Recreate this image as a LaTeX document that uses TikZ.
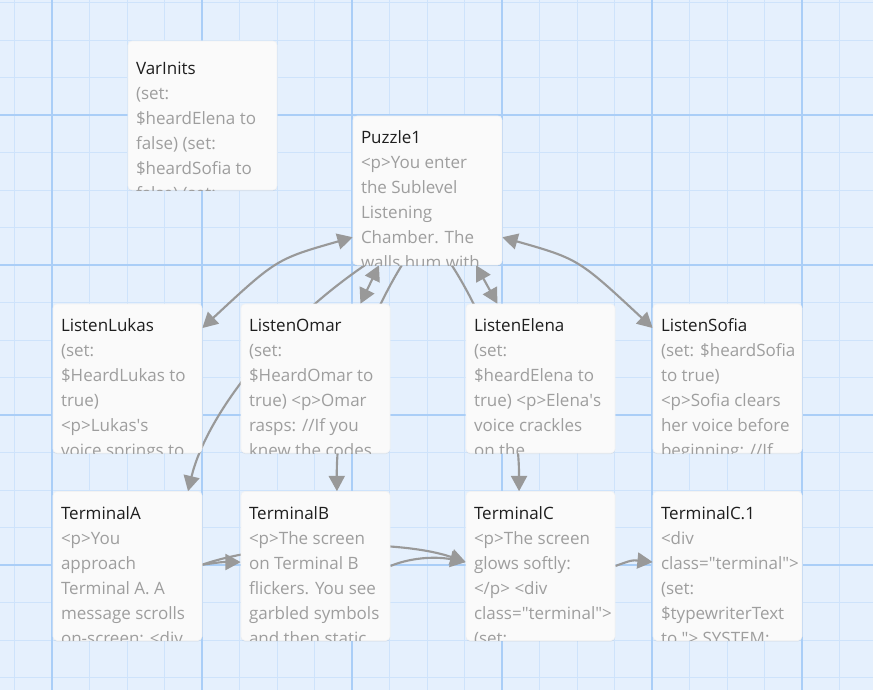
\documentclass[tikz,border=0pt]{standalone}
\usepackage{fontspec}
\setmainfont{Open Sans}
\usetikzlibrary{arrows.meta,calc,shadows}

\definecolor{canvasblue}{RGB}{229,240,253}
\definecolor{minorblue}{RGB}{206,227,251}
\definecolor{majorblue}{RGB}{170,206,247}
\definecolor{cardwhite}{RGB}{250,250,250}
\definecolor{linkgray}{RGB}{153,153,153}
\definecolor{bodygray}{RGB}{158,158,158}
\definecolor{titlegray}{RGB}{30,30,30}

\pgfdeclarelayer{bg}
\pgfdeclarelayer{edges}
\pgfsetlayers{bg,edges,main}

% passage card: name, centre, title, text (5 lines), title drop
\newcommand{\passage}[5]{%
  \node[passage] (#1) at (#2) {};
  \begin{scope}
    \clip[rounded corners=3pt] (#1.north west) rectangle (#1.south east);
    \node[ptitle] (#1-title) at ($(#1.north west)+(8,#5)$) {#3};
    \node[pbody] (#1-text) at ($(#1-title.base west)+(0,125)$) {#4};
  \end{scope}}

\begin{document}
\begin{tikzpicture}[x=0.75pt,y=0.75pt,yscale=-1,xscale=1,
  passage/.style={draw=black!5, fill=cardwhite, rounded corners=3pt, inner sep=0pt,
    minimum width=111.75pt, minimum height=111.75pt,
    drop shadow={shadow xshift=0pt, shadow yshift=-0.8pt, opacity=0.12}},
  ptitle/.style={font=\fontsize{12.75}{18.75}\selectfont, text=titlegray, anchor=base west, inner sep=0pt},
  pbody/.style={font=\fontsize{12.75}{18.75}\selectfont, text=bodygray, align=left, anchor=base west, inner sep=0pt},
  link/.style={draw=linkgray, line width=1.6pt, -{Triangle[length=11.5pt,width=12pt]}},
  twoway/.style={link, {Triangle[length=11.5pt,width=12pt]}-{Triangle[length=11.5pt,width=12pt]}},
  minorgrid/.style={draw=minorblue, line width=0.75pt},
  majorgrid/.style={draw=majorblue, line width=0.9pt}]
\useasboundingbox (0,0) rectangle (873,690);

%Grid
\begin{pgfonlayer}{bg}
\fill[canvasblue] (0,0) rectangle (873,690);
\foreach \x in {14.5,52,...,873} \draw[minorgrid] (\x,0) -- (\x,690);
\foreach \y in {2.5,40,...,690} \draw[minorgrid] (0,\y) -- (873,\y);
\foreach \x in {52,202,...,873} \draw[majorgrid] (\x,0) -- (\x,690);
\foreach \y in {115,265,...,690} \draw[majorgrid] (0,\y) -- (873,\y);
\end{pgfonlayer}

% Passages
\passage{varinits}{202.5,115.5}{VarInits}{(set:\\\$heardElena to\\false) (set:\\\$heardSofia to\\false) (set:}{34}
\passage{puzzle}{427.5,190.5}{Puzzle1}{<p>You enter\\the Sublevel\\Listening\\Chamber. The\\walls hum with}{28}
\passage{lukas}{127.5,378.5}{ListenLukas}{(set:\\\$HeardLukas to\\true)\\<p>Lukas\textquotesingle s\\voice springs to}{28}
\passage{omar}{315.5,378.5}{ListenOmar}{(set:\\\$HeardOmar to\\true) <p>Omar\\rasps: //If you\\knew the codes}{28}
\passage{elena}{540.5,378.5}{ListenElena}{(set:\\\$heardElena to\\true) <p>Elena\textquotesingle s\\voice crackles\\on the}{28}
\passage{sofia}{727.5,378.5}{ListenSofia}{(set: \$heardSofia\\to true)\\<p>Sofia clears\\her voice before\\beginning: //If}{28}
\passage{terma}{127.5,566}{TerminalA}{<p>You\\approach\\Terminal A. A\\message scrolls\\on-screen: <div}{28}
\passage{termb}{315.5,566}{TerminalB}{<p>The screen\\on Terminal B\\flickers. You see\\garbled symbols\\and then static}{28}
\passage{termc}{540.5,566}{TerminalC}{<p>The screen\\glows softly:\\</p> <div\\class=\textquotedbl terminal\textquotedbl>\\(set:}{28}
\passage{termcone}{727.5,566}{TerminalC.1}{<div\\class=\textquotedbl terminal\textquotedbl>\\(set:\\\$typewriterText\\to \textquotedbl> SYSTEM:}{28}

% Links
\begin{pgfonlayer}{edges}
\draw[twoway] (puzzle.212) .. controls (276.5,259) .. (lukas.34);
\draw[twoway] (puzzle.328) .. controls (578.5,259) .. (sofia.146);
\draw[twoway] (puzzle.237.5) -- (omar.59.2);
\draw[twoway] (puzzle.303.6) -- (elena.120.3);
\draw[link] (puzzle.230.9) .. controls (270,330) and (205,420) .. (terma.51.4);
\draw[link] (puzzle.251.8) .. controls (370,317) and (336,400) .. (termb.74.6);
\draw[link] (puzzle.288.2) .. controls (485,317) and (519,400) .. (termc.106.1);
\draw[link] (terma.1) .. controls (222,562) .. (termb.177.7);
\draw[link] (terma.1) .. controls (270,541) and (400,539) .. (termc.177.7);
\draw[link] (termb.east) .. controls (415,556) and (440,557) .. (termc.177.7);
\draw[link] (termc.east) .. controls (632,560) .. (termcone.177.7);
\end{pgfonlayer}

\end{tikzpicture}
\end{document}
